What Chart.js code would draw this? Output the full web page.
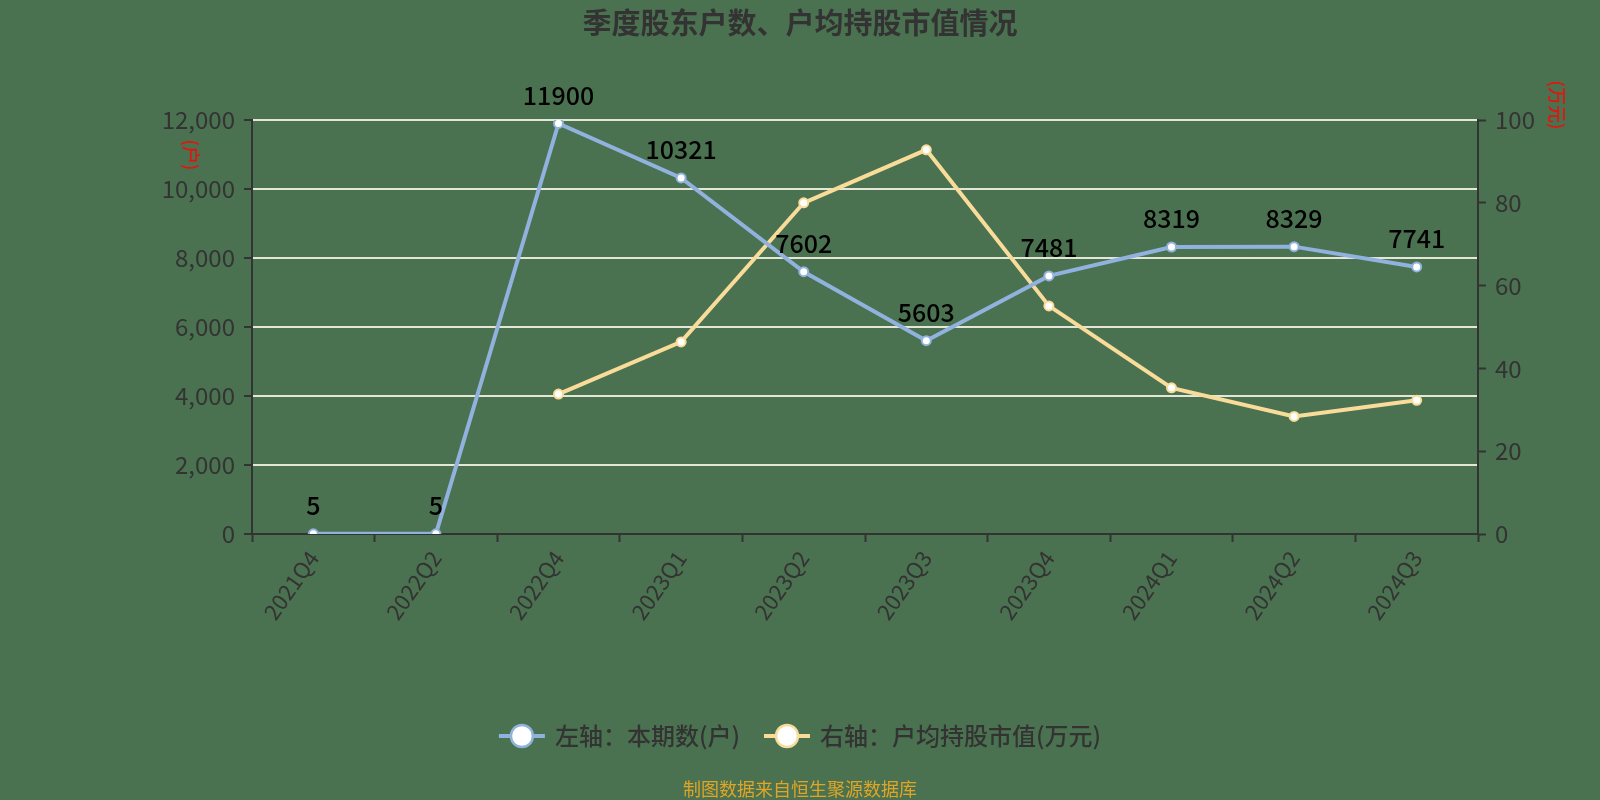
<!DOCTYPE html>
<html>
<head>
<meta charset="utf-8">
<script src="https://cdn.jsdelivr.net/npm/chart.js@4.4.1/dist/chart.umd.min.js"></script>
<style>
  html, body { margin: 0; padding: 0; background: #4b7250; }
  canvas { display: block; }
</style>
</head>
<body>
<canvas id="chart" width="1600" height="800"></canvas>
<script>
/* ===== 数据 ===== */
const quarters = ["2021Q4", "2022Q2", "2022Q4", "2023Q1", "2023Q2", "2023Q3", "2023Q4", "2024Q1", "2024Q2", "2024Q3"];
const holders = [5, 5, 11900, 10321, 7602, 5603, 7481, 8319, 8329, 7741];          // 本期数(户)
const avgValue = [null, null, 33.8, 46.4, 80.0, 92.8, 55.1, 35.3, 28.4, 32.3];     // 户均持股市值(万元)
const leftTicks = [0, 12000, 2000];
const rightTicks = [0, 100, 20];

const TITLE = "季度股东户数、户均持股市值情况";
const SOURCE = "制图数据来自恒生聚源数据库";
const LEGEND = ["左轴：本期数(户)", "右轴：户均持股市值(万元)"];

const BLUE = "#91b2de";
const YELLOW = "#f9dc9a";
const DARK = "#333333";
const GRID = "#e4e6d6";
const FONT = "'Noto Sans CJK SC', 'Noto Sans', sans-serif";

// 背景、标题、图例、单位、数据标签 都用自定义插件画
const decor = {
  id: "decor",
  beforeDraw(chart) {
    const ctx = chart.ctx;
    ctx.save();
    ctx.fillStyle = "#4b7250";
    ctx.fillRect(0, 0, chart.width, chart.height);
    ctx.restore();
  },
  afterDraw(chart) {
    const ctx = chart.ctx;
    ctx.save();
    // 标题
    ctx.fillStyle = DARK;
    ctx.textAlign = "center";
    ctx.textBaseline = "middle";
    ctx.font = "bold 29px " + FONT;
    ctx.fillText(TITLE, 800, 23);

    // 底部来源
    ctx.fillStyle = "#e0a526";
    ctx.font = "18px " + FONT;
    ctx.fillText(SOURCE, 800, 789);

    // 单位（竖排红字）
    ctx.fillStyle = "#e8120c";
    ctx.font = "500 18px " + FONT;
    [["(户)", 191, 155], ["(万元)", 1557, 105]].forEach(([t, x, y]) => {
      ctx.save();
      ctx.translate(x, y);
      ctx.rotate(Math.PI / 2);
      ctx.fillText(t, 0, 0);
      ctx.restore();
    });

    // 数据标签（左轴系列）
    const meta = chart.getDatasetMeta(0);
    ctx.fillStyle = "#000";
    ctx.font = "500 25px " + FONT;
    meta.data.forEach((pt, i) => ctx.fillText(String(holders[i]), pt.x, pt.y - 28));

    // 图例
    ctx.font = "500 24px " + FONT;
    const colors = [BLUE, YELLOW];
    const markW = 46, gapText = 10, gapItem = 24;
    const widths = LEGEND.map(t => markW + gapText + ctx.measureText(t).width);
    const total = widths.reduce((a, b) => a + b, 0) + gapItem;
    let x = 800 - total / 2;
    const y = 736;
    LEGEND.forEach((t, i) => {
      ctx.strokeStyle = colors[i];
      ctx.lineWidth = 4;
      ctx.beginPath();
      ctx.moveTo(x, y);
      ctx.lineTo(x + markW, y);
      ctx.stroke();
      ctx.beginPath();
      ctx.arc(x + markW / 2, y, 11, 0, Math.PI * 2);
      ctx.fillStyle = "#fff";
      ctx.fill();
      ctx.lineWidth = 2.5;
      ctx.stroke();
      ctx.fillStyle = DARK;
      ctx.textAlign = "left";
      ctx.fillText(t, x + markW + gapText, y);
      x += widths[i] + gapItem;
    });
    ctx.restore();
  }
};

new Chart(document.getElementById("chart"), {
  type: "line",
  data: {
    labels: quarters,
    datasets: [
      { label: LEGEND[0], data: holders, yAxisID: "y", borderColor: BLUE, borderWidth: 4,
        pointBackgroundColor: "#fff", pointBorderColor: BLUE, pointRadius: 4.5, pointBorderWidth: 2, tension: 0 },
      { label: LEGEND[1], data: avgValue, yAxisID: "y1", borderColor: YELLOW, borderWidth: 4,
        pointBackgroundColor: "#fff", pointBorderColor: YELLOW, pointRadius: 4.5, pointBorderWidth: 2, tension: 0 },
    ]
  },
  plugins: [decor],
  options: {
    responsive: false,
    animation: false,
    devicePixelRatio: 1,
    layout: { padding: { top: 120, left: 0, right: 0, bottom: 0 } },
    plugins: { legend: { display: false }, title: { display: false }, tooltip: { enabled: false } },
    scales: {
      x: {
        offset: true,
        grid: { offset: true, drawOnChartArea: false, tickLength: 8, tickColor: DARK, tickWidth: 2 },
        border: { color: DARK, width: 2 },
        ticks: { color: DARK, font: { size: 22, family: FONT }, maxRotation: 55, minRotation: 55, padding: 4 },
        afterFit: s => { s.height = 266; }
      },
      y: {
        position: "left",
        min: leftTicks[0], max: leftTicks[1],
        ticks: { stepSize: leftTicks[2], color: DARK, font: { size: 24, family: FONT }, padding: 9,
                 callback: v => v.toLocaleString("en-US") },
        grid: { color: GRID, lineWidth: 2, tickLength: 8, tickColor: DARK, tickWidth: 2 },
        border: { color: DARK, width: 2 },
        afterFit: s => { s.width = 252; }
      },
      y1: {
        position: "right",
        min: rightTicks[0], max: rightTicks[1],
        ticks: { stepSize: rightTicks[2], color: DARK, font: { size: 24, family: FONT }, padding: 9 },
        grid: { drawOnChartArea: false, tickLength: 8, tickColor: DARK, tickWidth: 2 },
        border: { color: DARK, width: 2 },
        afterFit: s => { s.width = 122; }
      }
    }
  }
});
</script>
</body>
</html>
